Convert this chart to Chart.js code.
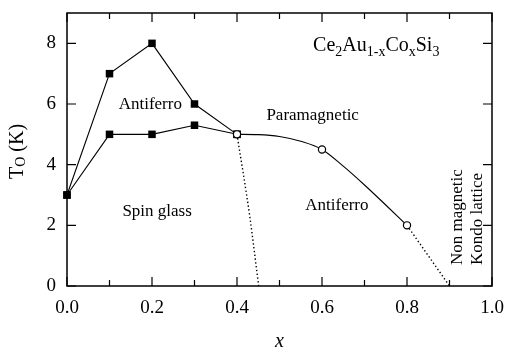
<!DOCTYPE html>
<html><head><meta charset="utf-8">
<script src="https://cdn.jsdelivr.net/npm/chart.js@4/dist/chart.umd.min.js"></script>
<style>html,body{margin:0;padding:0;background:#fff}#wrap{width:506px;height:352px;position:relative}</style>
</head><body><div id="wrap"><canvas id="c"></canvas></div>
<script>
// ---- data ----
const compositionX   = [0, 0.1, 0.2, 0.3, 0.4];
const antiferroUpperT = [3, 7, 8, 6, 5];
const spinGlassT     = [3, 5, 5, 5.3, 5];
const curveX = [0.4, 0.45, 0.5, 0.55, 0.6, 0.65, 0.7, 0.75, 0.8];
const curveT = [5.0, 4.99, 4.93, 4.77, 4.5, 3.95, 3.33, 2.67, 2.0];
const openPointX = [0.4, 0.6, 0.8];
const dotted1X = [0.4, 0.43, 0.451];
const dotted1T = [5, 2.3, 0];
const dotted2X = [0.8, 0.9];
const dotted2T = [2, 0];
const xTickLabels = ['0.0', '0.2', '0.4', '0.6', '0.8', '1.0'];
const xMinorTicks = [0.1, 0.3, 0.5, 0.7, 0.9];
const yTickLabels = ['0', '2', '4', '6', '8'];

const FONT = "'Liberation Serif', 'Times New Roman', serif";
Chart.defaults.font.family = FONT;
Chart.defaults.color = '#000';
const pts = (xs, ys) => xs.map((v, i) => ({x: v, y: ys[i]}));

// text annotations in data coordinates
const labels = [
  {text: 'Antiferro', x: 0.196, y: 5.97},
  {text: 'Paramagnetic', x: 0.578, y: 5.61},
  {text: 'Spin glass', x: 0.212, y: 2.45},
  {text: 'Antiferro', x: 0.635, y: 2.65}
];
const rotLabels = [
  {text: 'Non magnetic', x: 0.919, y: 0.69},
  {text: 'Kondo lattice', x: 0.965, y: 0.69}
];
const formula = [
  {t: 'Ce'}, {t: '2', sub: true}, {t: 'Au'}, {t: '1-x', sub: true},
  {t: 'Co'}, {t: 'x', sub: true}, {t: 'Si'}, {t: '3', sub: true}
];
const yTitle = [{t: 'T'}, {t: 'O', sub: true}, {t: ' (K)'}];

function drawRich(ctx, parts, x, y, size, subSize, subShift, align) {
  const w = parts.map(p => { ctx.font = (p.sub ? subSize : size) + 'px ' + FONT; return ctx.measureText(p.t).width; });
  const total = w.reduce((a, b) => a + b, 0);
  let cx = align === 'center' ? x - total / 2 : x;
  ctx.textAlign = 'left';
  ctx.textBaseline = 'alphabetic';
  parts.forEach((p, i) => {
    ctx.font = (p.sub ? subSize : size) + 'px ' + FONT;
    ctx.fillText(p.t, cx, y + (p.sub ? subShift : 0));
    cx += w[i];
  });
}

const deco = {
  id: 'deco',
  beforeDatasetsDraw(chart) {
    const {ctx, chartArea: a, scales: {x, y}} = chart;
    ctx.save();
    ctx.strokeStyle = '#000';
    ctx.lineWidth = 1.5;
    ctx.strokeRect(a.left, a.top, a.right - a.left, a.bottom - a.top);
    ctx.lineWidth = 1.2;
    ctx.beginPath();
    xTickLabels.forEach(v => {
      const px = x.getPixelForValue(parseFloat(v));
      ctx.moveTo(px, a.bottom); ctx.lineTo(px, a.bottom - 9);
      ctx.moveTo(px, a.top); ctx.lineTo(px, a.top + 9);
    });
    xMinorTicks.forEach(v => {
      const px = x.getPixelForValue(v);
      ctx.moveTo(px, a.bottom); ctx.lineTo(px, a.bottom - 6);
      ctx.moveTo(px, a.top); ctx.lineTo(px, a.top + 6);
    });
    yTickLabels.forEach(v => {
      const py = y.getPixelForValue(parseFloat(v));
      ctx.moveTo(a.left, py); ctx.lineTo(a.left + 9, py);
      ctx.moveTo(a.right, py); ctx.lineTo(a.right - 9, py);
    });
    ctx.stroke();
    ctx.restore();
  },
  afterDraw(chart) {
    const {ctx, chartArea: a, scales: {x, y}} = chart;
    ctx.save();
    ctx.fillStyle = '#000';
    ctx.font = '17px ' + FONT;
    ctx.textAlign = 'center';
    ctx.textBaseline = 'middle';
    labels.forEach(l => ctx.fillText(l.text, x.getPixelForValue(l.x), y.getPixelForValue(l.y)));
    rotLabels.forEach(l => {
      ctx.save();
      ctx.translate(x.getPixelForValue(l.x), y.getPixelForValue(l.y));
      ctx.rotate(-Math.PI / 2);
      ctx.textAlign = 'left';
      ctx.textBaseline = 'middle';
      ctx.font = '17px ' + FONT;
      ctx.fillText(l.text, 0, 0);
      ctx.restore();
    });
    drawRich(ctx, formula, x.getPixelForValue(0.579), y.getPixelForValue(7.76), 20, 14, 5, 'left');
    ctx.save();
    ctx.translate(23, (a.top + a.bottom) / 2 + 2);
    ctx.rotate(-Math.PI / 2);
    drawRich(ctx, yTitle, 0, 0, 20, 14, 2, 'center');
    ctx.restore();
    ctx.restore();
  }
};

const zeroPad = s => { s.paddingLeft = 0; s.paddingRight = 0; s.paddingTop = 0; s.paddingBottom = 0; };

new Chart(document.getElementById('c'), {
  type: 'scatter',
  data: {
    datasets: [
      {
        data: pts(curveX, curveT), showLine: true, borderColor: '#000', borderWidth: 1.1,
        cubicInterpolationMode: 'monotone', pointStyle: 'circle',
        pointRadius: ctx => openPointX.includes(ctx.raw.x) ? 3.6 : 0,
        pointBackgroundColor: '#fff', pointBorderColor: '#000', pointBorderWidth: 1.2
      },
      {
        data: pts(compositionX, antiferroUpperT), showLine: true, borderColor: '#000', borderWidth: 1.1,
        pointStyle: 'rect', pointRadius: 5.3, pointBackgroundColor: '#000', pointBorderWidth: 0
      },
      {
        data: pts(compositionX, spinGlassT), showLine: true, borderColor: '#000', borderWidth: 1.1,
        pointStyle: 'rect', pointRadius: 5.3, pointBackgroundColor: '#000', pointBorderWidth: 0
      },
      {
        data: pts(dotted1X, dotted1T), showLine: true, borderColor: '#000', borderWidth: 1.4,
        borderDash: [1.4, 2.4], cubicInterpolationMode: 'monotone', pointRadius: 0
      },
      {
        data: pts(dotted2X, dotted2T), showLine: true, borderColor: '#000', borderWidth: 1.4,
        borderDash: [1.4, 2.4], pointRadius: 0
      }
    ]
  },
  options: {
    responsive: true, maintainAspectRatio: false, animation: false,
    clip: false,
    layout: {padding: {left: 0, right: 14, top: 13, bottom: 0}},
    plugins: {legend: {display: false}, tooltip: {enabled: false}},
    scales: {
      x: {
        type: 'linear', min: 0, max: 1,
        afterBuildTicks: s => { s.ticks = xTickLabels.map(v => ({value: parseFloat(v)})); },
        afterFit: s => { s.height = 66; zeroPad(s); },
        ticks: {
          callback: v => xTickLabels.find(l => Math.abs(parseFloat(l) - v) < 1e-9),
          font: {family: FONT, size: 19}, color: '#000', padding: 11, maxRotation: 0, autoSkip: false
        },
        grid: {display: false, drawTicks: false},
        border: {display: false},
        title: {display: true, text: 'x', color: '#000', font: {family: FONT, size: 20, style: 'italic', lineHeight: 1.0}, padding: {top: 0, bottom: 0}}
      },
      y: {
        type: 'linear', min: 0, max: 9,
        afterBuildTicks: s => { s.ticks = yTickLabels.map(v => ({value: parseFloat(v)})); },
        afterFit: s => { s.width = 67; zeroPad(s); },
        ticks: {
          callback: v => yTickLabels.find(l => Math.abs(parseFloat(l) - v) < 1e-9),
          font: {family: FONT, size: 19}, color: '#000', padding: 11
        },
        grid: {display: false, drawTicks: false},
        border: {display: false}
      }
    }
  },
  plugins: [deco]
});
</script>
</body></html>
